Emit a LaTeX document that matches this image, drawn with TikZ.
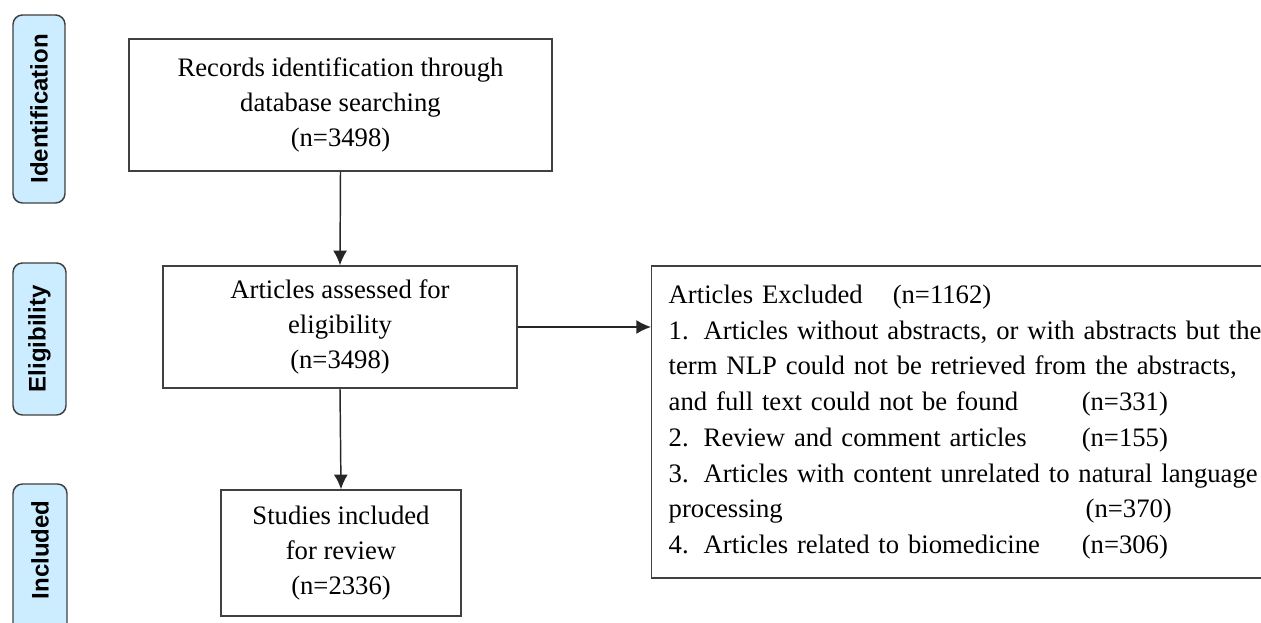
\documentclass[tikz,border=0pt]{standalone}
\usepackage{fontspec}
\setmainfont{Liberation Serif}
\setsansfont{Liberation Sans}
\usetikzlibrary{arrows.meta}
\definecolor{stageblue}{RGB}{204,236,255}
\definecolor{edgegray}{RGB}{64,64,64}
\begin{document}
\begin{tikzpicture}[x=0.75pt, y=-0.75pt, >={Latex[length=11pt,width=10.5pt]},
      font=\fontsize{20}{26.5}\selectfont,
      box/.style={draw=edgegray, line width=1.1pt, align=center, inner sep=0pt},
      stage/.style={draw=edgegray, line width=1.1pt, fill=stageblue, rounded corners=0.25cm,
        font=\fontsize{18}{20}\sffamily\bfseries, inner sep=0pt},
      exbox/.style={box, align=left, inner xsep=12.75pt, text width=480pt,
        font=\fontsize{20}{26.8}\selectfont},
      link/.style={->, draw=black!85, line width=1.1pt}]
    \useasboundingbox (0,0) rectangle (1261,623);
    \clip (0,0) rectangle (1261,623);
    % stage labels on the left
    \node[stage, minimum width=39pt, minimum height=141pt] (sident) at (39,109) {\rotatebox{90}{Identification}};
    \node[stage, minimum width=39.75pt, minimum height=114pt] (selig) at (39.5,339) {\rotatebox{90}{Eligibility}};
    \node[stage, minimum width=40.5pt, minimum height=120pt] (sincl) at (40,564) {};
    \node[font=\fontsize{18}{20}\sffamily\bfseries] (sincltxt) at (40,550) {\rotatebox{90}{Included}};
    % flow boxes
    \node[box, minimum width=317.25pt, minimum height=99pt] (records) at (340.5,105)
      {Records identification through\\database searching\\(n=3498)};
    \node[box, minimum width=265.5pt, minimum height=91.5pt] (assessed) at (340,327)
      {Articles assessed for\\eligibility\\(n=3498)};
    \node[box, minimum width=180pt, minimum height=94.5pt] (included) at (341,553)
      {Studies included\\for review\\(n=2336)};
    \node[exbox, minimum height=234pt, anchor=west] (excluded) at (651,422)
      {\makebox[168pt][l]{Articles Excluded}(n=1162)\\
       \makebox[26.25pt][l]{1.}Articles without abstracts, or with abstracts but the\\
       term NLP could not be retrieved from the abstracts,\\
       \makebox[309.75pt][l]{and full text could not be found}(n=331)\\
       \makebox[26.25pt][l]{2.}\makebox[283.5pt][l]{Review and comment articles}(n=155)\\
       \makebox[26.25pt][l]{3.}Articles with content unrelated to natural language\\
       \makebox[312.75pt][l]{processing}(n=370)\\
       \makebox[26.25pt][l]{4.}\makebox[283.5pt][l]{Articles related to biomedicine}(n=306)\\[10pt]};
    % connectors
    \draw[link] (records.south) -- (assessed.north);
    \draw[link] (assessed.south) -- (included.north);
    \draw[link] (assessed.east) -- (assessed.east -| excluded.west);
  \end{tikzpicture}
\end{document}
